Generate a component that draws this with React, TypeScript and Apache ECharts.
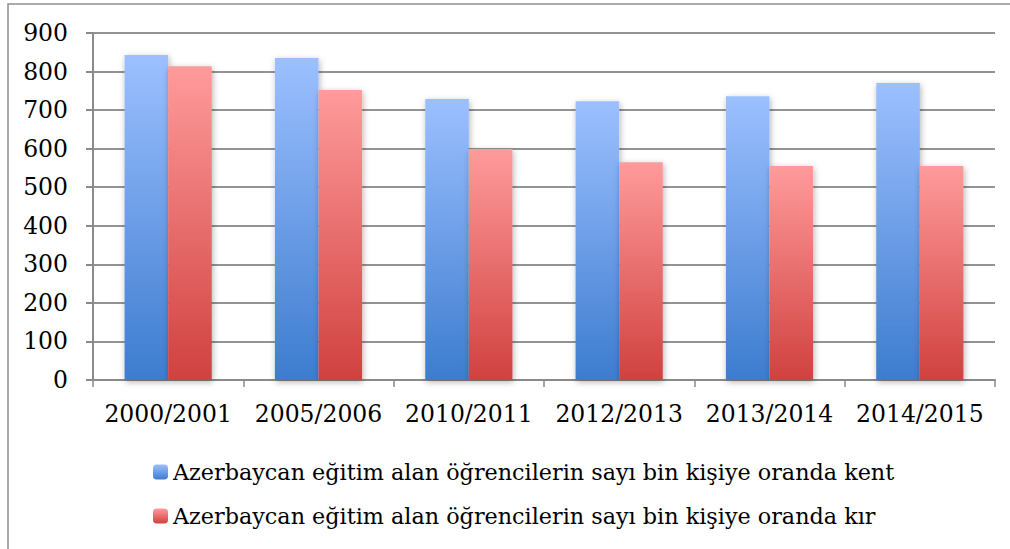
import React, { useEffect, useRef } from "react";
import * as echarts from "echarts";

const categories = ["2000/2001", "2005/2006", "2010/2011", "2012/2013", "2013/2014", "2014/2015"];
const kentValues = [843, 835, 729, 723, 736, 770];
const kirValues = [814, 752, 599, 565, 555, 555];
const seriesNames = [
  "Azerbaycan eğitim alan öğrencilerin sayı bin kişiye oranda kent",
  "Azerbaycan eğitim alan öğrencilerin sayı bin kişiye oranda kır",
];

const FONT = "DejaVu Serif";

export default function App() {
  const ref = useRef<HTMLDivElement>(null);
  useEffect(() => {
    document.body.style.margin = "0";
    const chart = echarts.init(ref.current!, null, { renderer: "svg" });
    const grad = (top: string, bottom: string) =>
      new echarts.graphic.LinearGradient(0, 0, 0, 1, [
        { offset: 0, color: top },
        { offset: 1, color: bottom },
      ]);
    chart.setOption({
      animation: false,
      backgroundColor: "#ffffff",
      graphic: [
        {
          type: "rect",
          shape: { x: 8, y: 4, width: 1100, height: 700 },
          style: { fill: "none", stroke: "#8f8f8f", lineWidth: 1.5 },
          silent: true,
          z: -1,
        },
      ],
      grid: { left: 93, right: 15, top: 33, bottom: 169, containLabel: false },
      legend: {
        orient: "vertical",
        left: 148,
        top: 456,
        itemWidth: 15,
        itemHeight: 15,
        itemGap: 22,
        textStyle: { fontFamily: FONT, fontSize: 22.3, color: "#000" },
        data: seriesNames,
      },
      xAxis: {
        type: "category",
        data: categories,
        axisLine: { lineStyle: { color: "#8a8a8a", width: 2 } },
        axisTick: { show: true, length: 7, interval: 0, lineStyle: { color: "#8a8a8a", width: 1.5 } },
        axisLabel: { fontFamily: FONT, fontSize: 23.5, color: "#000", margin: 22, interval: 0 },
      },
      yAxis: {
        type: "value",
        min: 0,
        max: 900,
        interval: 100,
        axisLine: { show: true, lineStyle: { color: "#8a8a8a", width: 2 } },
        axisTick: { show: true, length: 7, lineStyle: { color: "#8a8a8a", width: 2 } },
        splitLine: { lineStyle: { color: "#939393", width: 2 } },
        axisLabel: { fontFamily: FONT, fontSize: 23.5, color: "#000", margin: 25 },
      },
      series: [
        {
          name: seriesNames[0],
          type: "bar",
          data: kentValues,
          barGap: "0%",
          barCategoryGap: "42%",
          itemStyle: {
            color: grad("#9cc0ff", "#3d7ccf"),
            shadowColor: "rgba(0,0,0,0.3)",
            shadowBlur: 6,
            shadowOffsetX: 1,
            shadowOffsetY: 2,
          },
        },
        {
          name: seriesNames[1],
          type: "bar",
          data: kirValues,
          itemStyle: {
            color: grad("#ff9b9b", "#d0413f"),
            shadowColor: "rgba(0,0,0,0.3)",
            shadowBlur: 6,
            shadowOffsetX: 1,
            shadowOffsetY: 2,
          },
        },
      ],
    });
    return () => chart.dispose();
  }, []);
  return <div ref={ref} style={{ width: 1010, height: 549 }} />;
}
